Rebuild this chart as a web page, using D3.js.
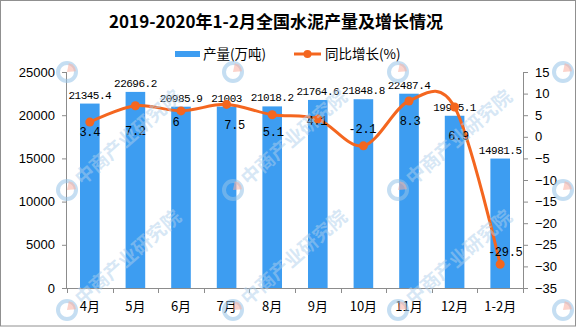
<!DOCTYPE html>
<html>
<head>
<meta charset="utf-8">
<script src="https://cdn.jsdelivr.net/npm/d3@7"></script>
<style>
  html, body { margin: 0; padding: 0; background: #fff; }
  svg { display: block; }
</style>
</head>
<body>
<div id="chart"></div>
<script>
// ── Data ────────────────────────────────────────────────────────
const months = ['4月', '5月', '6月', '7月', '8月', '9月', '10月', '11月', '12月', '1-2月'];
const output = [21345.4, 22696.2, 20985.9, 21003, 21018.2, 21764.6, 21848.8, 22487.4, 19935.1, 14981.5];
const growth = [3.4, 7.2, 6, 7.5, 5.1, 4.1, -2.1, 8.3, 6.9, -29.5];
const outputTicks = [0, 5000, 10000, 15000, 20000, 25000];
const growthTicks = [-35, -30, -25, -20, -15, -10, -5, 0, 5, 10, 15];

const TITLE = '2019-2020年1-2月全国水泥产量及增长情况';
const LEGEND_BAR = '产量(万吨)';
const LEGEND_LINE = '同比增长(%)';
const WATERMARK = '中商产业研究院';

(function () {
  'use strict';

  const W = 576, H = 327;
  const plot = { left: 67, right: 523, top: 72, bottom: 288 };

  const BLUE = '#3d9df1';
  const ORANGE = '#f4661f';
  const AXIS = '#8c8c8c';
  const CJK = '"Noto Sans CJK SC", "Noto Sans", sans-serif';
  const SANS = '"Liberation Sans", Arial, sans-serif';
  const MONO = '"Liberation Mono", "DejaVu Sans Mono", monospace';

  // small hand nudges for the growth labels: [dx, dy from point to label centre]
  const growthLabelNudge = [[0, 10], [0, 25], [-5, 11], [8, 20], [1, 17], [-1, 2], [-1, -17], [1, 20], [4, 29], [5, -13]];

  const svg = d3.select('#chart').append('svg')
    .attr('width', W)
    .attr('height', H)
    .attr('viewBox', `0 0 ${W} ${H}`);

  // ── Scales ─────────────────────────────────────────────────────
  const x = d3.scaleBand()
    .domain(months)
    .range([plot.left, plot.right])
    .paddingInner(0.57)
    .paddingOuter(0.285);

  const yL = d3.scaleLinear().domain([0, 25000]).range([plot.bottom, plot.top]);
  const yR = d3.scaleLinear().domain([-35, 15]).range([plot.bottom, plot.top]);

  const cx = m => x(m) + x.bandwidth() / 2;

  // ── Bars ───────────────────────────────────────────────────────
  svg.append('g')
    .selectAll('rect')
    .data(output)
    .join('rect')
    .attr('x', (d, i) => x(months[i]))
    .attr('y', d => yL(d))
    .attr('width', x.bandwidth())
    .attr('height', d => yL(0) - yL(d))
    .attr('fill', BLUE);

  // ── Axes ───────────────────────────────────────────────────────
  const axisL = svg.append('g')
    .attr('transform', `translate(${plot.left},0)`)
    .call(d3.axisLeft(yL).tickValues(outputTicks).tickSize(5).tickPadding(7).tickFormat(d3.format('d')));

  const axisR = svg.append('g')
    .attr('transform', `translate(${plot.right},0)`)
    .call(d3.axisRight(yR).tickValues(growthTicks).tickSize(5).tickPadding(7)
      .tickFormat(d => (d < 0 ? '\u2212' + Math.abs(d) : String(d))));

  // x-axis ticks sit on the band boundaries, labels centred in the bands
  const step = x.step();
  const bounds = d3.range(months.length + 1).map(i => plot.left + i * step);
  const axisB = svg.append('g');
  axisB.append('line')
    .attr('x1', plot.left).attr('x2', plot.right)
    .attr('y1', plot.bottom + 0.5).attr('y2', plot.bottom + 0.5)
    .attr('stroke', AXIS);
  axisB.selectAll('line.tick')
    .data(bounds)
    .join('line')
    .attr('class', 'tick')
    .attr('x1', d => Math.round(d) + 0.5).attr('x2', d => Math.round(d) + 0.5)
    .attr('y1', plot.bottom).attr('y2', plot.bottom + 5)
    .attr('stroke', AXIS);
  axisB.selectAll('text')
    .data(months)
    .join('text')
    .attr('x', d => cx(d))
    .attr('y', 311)
    .attr('text-anchor', 'middle')
    .attr('font-family', CJK)
    .attr('font-size', '13px')
    .attr('fill', '#000')
    .text(d => d);

  [axisL, axisR].forEach(a => {
    a.select('.domain').attr('stroke', AXIS);
    a.selectAll('.tick line').attr('stroke', AXIS);
    a.selectAll('.tick text')
      .attr('font-family', SANS)
      .attr('font-size', '13px')
      .attr('fill', '#000');
  });
  axisL.select('.domain').attr('d', `M-0.5,${plot.top}V${plot.bottom + 0.5}`);
  axisR.select('.domain').attr('d', `M0.5,${plot.top}V${plot.bottom + 0.5}`);

  // ── Bar labels ─────────────────────────────────────────────────
  svg.append('g')
    .selectAll('text')
    .data(output)
    .join('text')
    .attr('x', (d, i) => cx(months[i]))
    .attr('y', d => yL(d) - 5)
    .attr('text-anchor', 'middle')
    .attr('font-family', MONO)
    .attr('font-size', '11px')
    .attr('letter-spacing', '-0.5px')
    .attr('fill', '#000')
    .text(d => String(d));

  // ── Growth line ────────────────────────────────────────────────
  const line = d3.line()
    .x((d, i) => cx(months[i]))
    .y(d => yR(d))
    .curve(d3.curveCardinal.tension(0));

  svg.append('path')
    .datum(growth)
    .attr('d', line)
    .attr('fill', 'none')
    .attr('stroke', ORANGE)
    .attr('stroke-width', 3)
    .attr('stroke-linejoin', 'round');

  svg.append('g')
    .selectAll('circle')
    .data(growth)
    .join('circle')
    .attr('cx', (d, i) => cx(months[i]))
    .attr('cy', d => yR(d))
    .attr('r', 4.5)
    .attr('fill', ORANGE);

  svg.append('g')
    .selectAll('text')
    .data(growth)
    .join('text')
    .attr('x', (d, i) => cx(months[i]) + growthLabelNudge[i][0])
    .attr('y', (d, i) => yR(d) + growthLabelNudge[i][1])
    .attr('dy', '0.36em')
    .attr('text-anchor', 'middle')
    .attr('font-family', MONO)
    .attr('font-size', '12px')
    .attr('letter-spacing', '-0.3px')
    .attr('fill', '#000')
    .text(d => String(d));

  // ── Title & legend ─────────────────────────────────────────────
  svg.append('text')
    .attr('x', 276)
    .attr('y', 28)
    .attr('text-anchor', 'middle')
    .attr('font-family', CJK)
    .attr('font-size', '17px')
    .attr('font-weight', 'bold')
    .attr('fill', '#000')
    .text(TITLE);

  const legend = svg.append('g').attr('transform', 'translate(175,54)');
  legend.append('rect')
    .attr('x', 0).attr('y', -3).attr('width', 25).attr('height', 6)
    .attr('fill', BLUE);
  legend.append('text')
    .attr('x', 28).attr('y', 0).attr('dy', '0.36em')
    .attr('font-family', CJK).attr('font-size', '13.5px').attr('fill', '#000')
    .text(LEGEND_BAR);
  legend.append('line')
    .attr('x1', 119).attr('x2', 146).attr('y1', 0).attr('y2', 0)
    .attr('stroke', ORANGE).attr('stroke-width', 3);
  legend.append('circle')
    .attr('cx', 132.5).attr('cy', 0).attr('r', 4)
    .attr('fill', ORANGE);
  legend.append('text')
    .attr('x', 150).attr('y', 0).attr('dy', '0.36em')
    .attr('font-family', CJK).attr('font-size', '13.5px').attr('fill', '#000')
    .text(LEGEND_LINE);

  // ── Watermark ──────────────────────────────────────────────────
  // logos tile the whole canvas; the diagonal text is only kept where it fits
  const wm = svg.append('g').attr('pointer-events', 'none');
  const wmXs = [-98, 67, 233, 398, 563];
  const wmYs = [-45, 72, 190, 310];
  const wmLen = 7 * 19;
  const ang = -41 * Math.PI / 180;
  wmYs.forEach(wy => wmXs.forEach(wx => {
    const g = wm.append('g').attr('transform', `translate(${wx},${wy})`);
    g.append('circle')
      .attr('r', 9)
      .attr('fill', 'none')
      .attr('stroke', 'rgba(150,195,232,0.55)')
      .attr('stroke-width', 4);
    g.append('path')
      .attr('d', d3.arc()({ innerRadius: 0, outerRadius: 9, startAngle: 0.2, endAngle: 1.5 }))
      .attr('fill', 'rgba(250,175,160,0.55)');

    const endX = wx + 14 + wmLen * Math.cos(ang) + 12;
    const endY = wy + wmLen * Math.sin(ang) - 14;
    if (wx < 0 || endX > W || endY < 0) return;
    g.append('text')
      .attr('transform', 'rotate(-41)')
      .attr('x', 14)
      .attr('y', 7)
      .attr('font-family', CJK)
      .attr('font-size', '19px')
      .attr('font-weight', 'bold')
      .attr('fill', 'rgba(175,208,236,0.5)')
      .text(WATERMARK);
  }));

  // ── Frame ──────────────────────────────────────────────────────
  svg.append('rect')
    .attr('x', 0.5).attr('y', 0.5)
    .attr('width', W - 1).attr('height', H - 1.5)
    .attr('fill', 'none')
    .attr('stroke', '#909090');
})();
</script>
</body>
</html>
